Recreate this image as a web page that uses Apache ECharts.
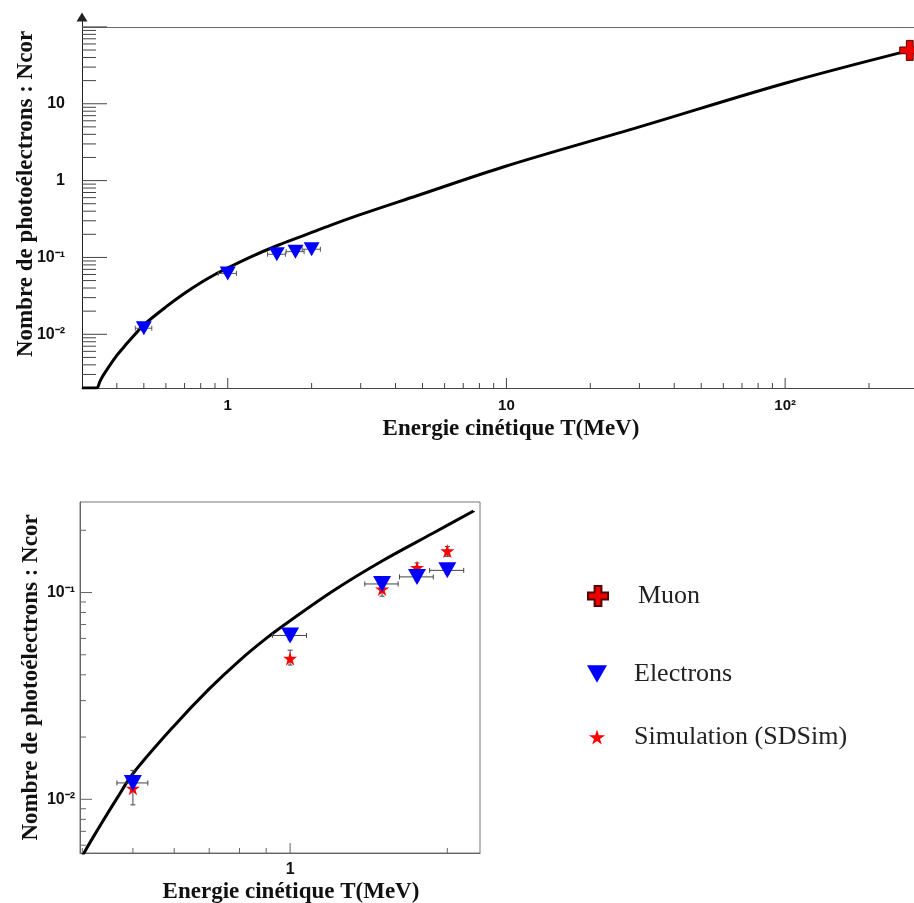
<!DOCTYPE html>
<html><head><meta charset="utf-8">
<script src="https://cdn.jsdelivr.net/npm/echarts@6/dist/echarts.min.js"></script>
<style>html,body{margin:0;padding:0;background:#fff}#c{width:914px;height:903px}</style>
</head><body><div id="c"></div>
<script>
// ---------------- data ----------------
const curveT = [0.30, 0.338, 0.348, 0.357, 0.40, 0.432, 0.466, 0.5, 0.6, 0.7, 0.8, 0.9, 1.0, 1.21, 1.5, 1.88, 2.245, 2.95, 4.8, 10, 30, 100, 280];
const curveN = [0.002, 0.002, 0.00244, 0.0029, 0.0053, 0.0074, 0.0101, 0.0133, 0.0227, 0.0342, 0.0469, 0.060, 0.073, 0.102, 0.142, 0.194, 0.248, 0.355, 0.64, 1.55, 5.0, 18.5, 49.5];
const zoomCurveMaxT = 2.25;

const electronT = [0.5, 1.0, 1.5, 1.75, 2.0];
const electronN = [0.012, 0.062, 0.110, 0.119, 0.128];
const electronTErr = [0.034, 0.075, 0.11, 0.13, 0.15];
const electronNErr = [0.0009, 0.003, 0.005, 0.005, 0.005];

const simT = [0.5, 1.0, 1.5, 1.75, 2.0];
const simN = [0.0113, 0.048, 0.104, 0.132, 0.159];
const simNLow = [0.0094, 0.0446, 0.096, 0.127, 0.1496];
const simNHigh = [0.0138, 0.0526, 0.111, 0.139, 0.167];

const muonT = [280];
const muonN = [49.5];

const topXTickValues = [1, 10, 100];
const topXTickLabels = ['1', '10', '10²'];
const topYTickValues = [0.01, 0.1, 1, 10];
const topYTickLabels = ['10⁻²', '10⁻¹', '1', '10'];
const botXTickValues = [1];
const botXTickLabels = ['1'];
const botYTickValues = [0.01, 0.1];
const botYTickLabels = ['10⁻²', '10⁻¹'];

const seriesNames = ['Muon', 'Electrons', 'Simulation (SDSim)'];
const xTitle = 'Energie cinétique T(MeV)';
const yTitle = 'Nombre de photoélectrons : Ncor';

// ---------------- axis ranges ----------------
const TOP = {xMin: 0.3, xMax: 290, yMin: 0.002, yMax: 123};
const BOT = {xMin: 0.396, xMax: 2.31, yMin: 0.0055, yMax: 0.274};

// ---------------- helpers ----------------
function fmt(values, labels) {
  return function (v) {
    const lv = Math.log10(v);
    for (let i = 0; i < values.length; i++) {
      if (Math.abs(lv - Math.log10(values[i])) < 1e-6) return labels[i];
    }
    return '';
  };
}
function decades(lo, hi) {
  const out = [];
  for (let e = -5; e <= 4; e++) { const v = Math.pow(10, e); if (v >= lo * 0.9999 && v <= hi * 1.0001) out.push(v); }
  return out;
}
function minors(lo, hi) {
  const out = [];
  for (let e = -5; e <= 4; e++) for (let m = 2; m <= 9; m++) {
    const v = m * Math.pow(10, e);
    if (v > lo * 1.0001 && v < hi * 0.9999) out.push(v);
  }
  return out;
}
function tickSeries(xi, yi, vals, dir, fixed, len, color) {
  return {
    type: 'custom', xAxisIndex: xi, yAxisIndex: yi, silent: true, clip: false, z: 5,
    encode: {x: 0, y: 1},
    data: vals.map(v => dir === 'x' ? [v, fixed] : [fixed, v]),
    renderItem: function (params, api) {
      const p = api.coord([api.value(0), api.value(1)]);
      const shape = dir === 'x'
        ? {x1: p[0], y1: p[1], x2: p[0], y2: p[1] - len}
        : {x1: p[0], y1: p[1], x2: p[0] + len, y2: p[1]};
      return {type: 'line', shape: shape, style: {stroke: color, lineWidth: 1}};
    }
  };
}
function errorSeries(xi, yi, xs, ys, xl, xh, yl, yh, color, z) {
  return {
    type: 'custom', xAxisIndex: xi, yAxisIndex: yi, silent: true, clip: true, z: z,
    encode: {x: 0, y: 1},
    data: xs.map((x, i) => [x, ys[i], xl[i], xh[i], yl[i], yh[i]]),
    renderItem: function (params, api) {
      const x = api.value(0), y = api.value(1);
      const a = api.coord([api.value(2), y]), b = api.coord([api.value(3), y]);
      const lo = api.coord([x, api.value(4)]), hi = api.coord([x, api.value(5)]);
      const c = 2.5, st = {stroke: color, lineWidth: 1};
      const ch = [];
      if (b[0] - a[0] > 0.5) {
        ch.push({type: 'line', shape: {x1: a[0], y1: a[1], x2: b[0], y2: b[1]}, style: st});
        ch.push({type: 'line', shape: {x1: a[0], y1: a[1] - c, x2: a[0], y2: a[1] + c}, style: st});
        ch.push({type: 'line', shape: {x1: b[0], y1: b[1] - c, x2: b[0], y2: b[1] + c}, style: st});
      }
      if (lo[1] - hi[1] > 0.5) {
        ch.push({type: 'line', shape: {x1: lo[0], y1: lo[1], x2: hi[0], y2: hi[1]}, style: st});
        ch.push({type: 'line', shape: {x1: lo[0] - c, y1: lo[1], x2: lo[0] + c, y2: lo[1]}, style: st});
        ch.push({type: 'line', shape: {x1: hi[0] - c, y1: hi[1], x2: hi[0] + c, y2: hi[1]}, style: st});
      }
      return {type: 'group', children: ch};
    }
  };
}
const pairs = (xs, ys) => xs.map((x, i) => [x, ys[i]]);

const triPath = 'path://M0,0 L100,0 L50,88 Z';
const starPath = 'path://M50,0 L61,35 L98,35 L68,57 L79,91 L50,70 L21,91 L32,57 L2,35 L39,35 Z';
const crossPath = 'path://M33,0 H67 V33 H100 V67 H67 V100 H33 V67 H0 V33 H33 Z';

const titleFont = {fontFamily: 'Liberation Serif', fontWeight: 'bold', fontSize: 23, color: '#111'};
const tickFont = {fontFamily: 'Liberation Sans', fontWeight: 'bold', fontSize: 15, color: '#111'};
const legendFont = {fontFamily: 'Liberation Serif', fontSize: 26, color: '#222'};

const eLow = electronT.map((t, i) => t - electronTErr[i]);
const eHigh = electronT.map((t, i) => t + electronTErr[i]);
const eNLow = electronN.map((n, i) => n - electronNErr[i]);
const eNHigh = electronN.map((n, i) => n + electronNErr[i]);

const zoomCurve = pairs(curveT, curveN).filter(p => p[0] <= zoomCurveMaxT);

const option = {
  animation: false,
  backgroundColor: '#fff',
  grid: [
    {left: 82, right: 0, top: 20, bottom: 515, outerBoundsMode: 'none'},
    {left: 80, width: 400, top: 502, bottom: 50, show: true, borderColor: '#777', borderWidth: 1, backgroundColor: 'transparent', outerBoundsMode: 'none'}
  ],
  xAxis: [
    {type: 'log', logBase: 10, gridIndex: 0, min: TOP.xMin, max: TOP.xMax,
     axisLine: {show: true, onZero: false, lineStyle: {color: '#444', width: 1}},
     axisTick: {show: false}, minorTick: {show: false}, splitLine: {show: false},
     axisLabel: Object.assign({formatter: fmt(topXTickValues, topXTickLabels), margin: 10}, tickFont),
     name: xTitle, nameLocation: 'middle', nameGap: 30, nameMoveOverlap: false,
     nameTextStyle: Object.assign({padding: [0, 0, 0, 26]}, titleFont)},
    {type: 'log', logBase: 10, gridIndex: 1, min: BOT.xMin, max: BOT.xMax,
     axisLine: {show: true, onZero: false, lineStyle: {color: '#666', width: 1}},
     axisTick: {show: false}, minorTick: {show: false}, splitLine: {show: false},
     axisLabel: Object.assign({formatter: fmt(botXTickValues, botXTickLabels), margin: 9}, tickFont, {fontSize: 16}),
     name: xTitle, nameLocation: 'middle', nameGap: 28, nameMoveOverlap: false,
     nameTextStyle: Object.assign({padding: [0, 0, 0, 22]}, titleFont)}
  ],
  yAxis: [
    {type: 'log', logBase: 10, gridIndex: 0, min: TOP.yMin, max: TOP.yMax,
     axisLine: {show: true, onZero: false, symbol: ['none', 'triangle'], symbolSize: [11, 9], symbolOffset: [0, 3], lineStyle: {color: '#222', width: 1}},
     axisTick: {show: false}, minorTick: {show: false}, splitLine: {show: false},
     axisLabel: Object.assign({formatter: fmt(topYTickValues, topYTickLabels), margin: 17}, tickFont, {fontSize: 16}),
     name: yTitle, nameLocation: 'middle', nameGap: 44, nameMoveOverlap: false,
     nameTextStyle: Object.assign({padding: [0, 0, 0, 20]}, titleFont)},
    {type: 'log', logBase: 10, gridIndex: 1, min: BOT.yMin, max: BOT.yMax,
     axisLine: {show: true, onZero: false, lineStyle: {color: '#666', width: 1}},
     axisTick: {show: false}, minorTick: {show: false}, splitLine: {show: false},
     axisLabel: Object.assign({formatter: fmt(botYTickValues, botYTickLabels), margin: 5}, tickFont, {fontSize: 16}),
     name: yTitle, nameLocation: 'middle', nameGap: 37, nameMoveOverlap: false,
     nameTextStyle: titleFont}
  ],
  legend: [
    {data: [{name: seriesNames[0], icon: crossPath}], left: 582, top: 578, itemWidth: 20, itemHeight: 20, selectedMode: false,
     textStyle: Object.assign({padding: [0, 0, 14, 25]}, legendFont)},
    {data: [{name: seriesNames[1], icon: triPath}], left: 582, top: 656, itemWidth: 20, itemHeight: 20, selectedMode: false,
     textStyle: Object.assign({padding: [0, 0, 4, 22]}, legendFont)},
    {data: [{name: seriesNames[2], icon: starPath}], left: 584, top: 719, itemWidth: 16, itemHeight: 16, selectedMode: false,
     textStyle: Object.assign({padding: [0, 0, 4, 24]}, legendFont)}
  ],
  series: [
    {type: 'line', name: 'fit', xAxisIndex: 0, yAxisIndex: 0, data: pairs(curveT, curveN), showSymbol: false, symbol: 'none', smooth: 0.35, clip: true, silent: true, z: 3,
     lineStyle: {color: '#000', width: 3},
     markLine: {silent: true, symbol: 'none', label: {show: false}, lineStyle: {color: '#666', width: 1, type: 'solid'}, data: [{yAxis: 100}]}},
    {type: 'line', name: 'fit2', xAxisIndex: 1, yAxisIndex: 1, data: zoomCurve, showSymbol: false, symbol: 'none', smooth: 0.35, clip: true, silent: true, z: 3,
     lineStyle: {color: '#000', width: 3}},
    errorSeries(0, 0, electronT, electronN, eLow, eHigh, eNLow, eNHigh, '#555', 4),
    errorSeries(1, 1, simT, simN, simT, simT, simNLow, simNHigh, '#444', 4),
    errorSeries(1, 1, electronT, electronN, eLow, eHigh, eNLow, eNHigh, '#444', 4),
    {type: 'scatter', name: seriesNames[2], xAxisIndex: 1, yAxisIndex: 1, data: pairs(simT, simN), symbol: starPath, symbolSize: 14, z: 6,
     itemStyle: {color: '#ff0000', opacity: 1}},
    {type: 'scatter', name: seriesNames[1], xAxisIndex: 0, yAxisIndex: 0, data: pairs(electronT, electronN), symbol: triPath, symbolSize: [16, 14], z: 7,
     itemStyle: {color: '#0000ff', opacity: 1}},
    {type: 'scatter', name: seriesNames[1], xAxisIndex: 1, yAxisIndex: 1, data: pairs(electronT, electronN), symbol: triPath, symbolSize: [18, 16], z: 7,
     itemStyle: {color: '#0000ff', opacity: 1}},
    {type: 'scatter', name: seriesNames[0], xAxisIndex: 0, yAxisIndex: 0, data: pairs(muonT, muonN), symbol: crossPath, symbolSize: 20, z: 7,
     itemStyle: {color: '#ee0000', borderColor: '#550000', borderWidth: 1, opacity: 1}},
    // axis ticks (inside, ROOT style)
    tickSeries(0, 0, decades(TOP.xMin, TOP.xMax), 'x', TOP.yMin, 10, '#444'),
    tickSeries(0, 0, minors(TOP.xMin, TOP.xMax), 'x', TOP.yMin, 5, '#444'),
    tickSeries(0, 0, decades(TOP.yMin, 100), 'y', TOP.xMin, 25, '#444'),
    tickSeries(0, 0, minors(TOP.yMin, 100), 'y', TOP.xMin, 14, '#444'),
    tickSeries(1, 1, decades(BOT.xMin, BOT.xMax), 'x', BOT.yMin, 10, '#666'),
    tickSeries(1, 1, minors(BOT.xMin, BOT.xMax), 'x', BOT.yMin, 5, '#666'),
    tickSeries(1, 1, decades(BOT.yMin, BOT.yMax), 'y', BOT.xMin, 12, '#666'),
    tickSeries(1, 1, minors(BOT.yMin, BOT.yMax), 'y', BOT.xMin, 6, '#666')
  ]
};
const chart = echarts.init(document.getElementById('c'), null, {renderer: 'canvas'});
chart.setOption(option);
</script>
</body></html>
